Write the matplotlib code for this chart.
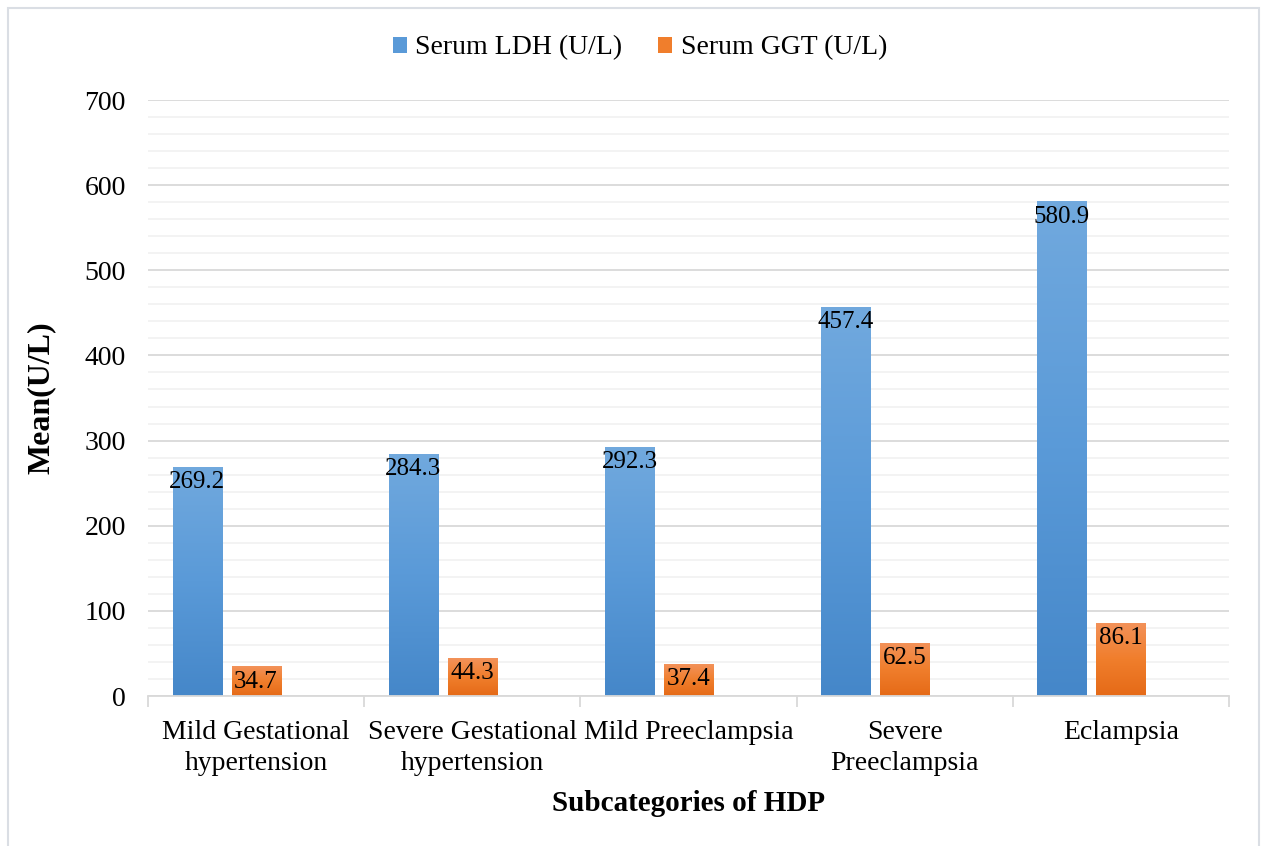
import numpy as np
import matplotlib.pyplot as plt
from matplotlib.colors import LinearSegmentedColormap
from matplotlib.patches import Rectangle

plt.rcParams['font.family'] = ['Liberation Serif', 'DejaVu Serif']

categories = ['Mild Gestational\nhypertension', 'Severe Gestational\nhypertension',
              'Mild Preeclampsia', 'Severe\nPreeclampsia', 'Eclampsia']
ldh = [269.2, 284.3, 292.3, 457.4, 580.9]
ggt = [34.7, 44.3, 37.4, 62.5, 86.1]

fig = plt.figure(figsize=(12.64, 8.46), dpi=100)
ax = fig.add_axes([148 / 1264, 1 - 696 / 846, (1229 - 148) / 1264, 596 / 846])

# frame around the whole chart
fig.patches.append(Rectangle((8 / 1264, -0.05), (1259 - 8) / 1264, 1.05 - 8 / 846,
                             transform=fig.transFigure, fill=False,
                             edgecolor='#dadee4', linewidth=1.5))

x = np.arange(len(categories))
w = 0.227
step = 0.273

blue_map = LinearSegmentedColormap.from_list('b', ['#4587c9', '#5a9ad8', '#71a9de'])
orange_map = LinearSegmentedColormap.from_list('o', ['#e56a17', '#f07e2c', '#f3925a'])

def gradient_bars(xs, vals, cmap, label):
    bars = ax.bar(xs, vals, w, color=cmap(0.5), label=label, zorder=2)
    grad = np.linspace(0, 1, 256).reshape(-1, 1)
    for b in bars:
        x0, y0 = b.get_x(), b.get_y()
        im = ax.imshow(grad, cmap=cmap, aspect='auto', origin='lower',
                       extent=(x0, x0 + b.get_width(), y0, y0 + b.get_height()),
                       zorder=2.5)
        im.set_clip_path(b)
    return bars

b1 = gradient_bars(x - step, ldh, blue_map, 'Serum LDH (U/L)')
b2 = gradient_bars(x, ggt, orange_map, 'Serum GGT (U/L)')

for bars, vals in [(b1, ldh), (b2, ggt)]:
    for b, v in zip(bars, vals):
        ax.annotate(f'{v:.1f}', (b.get_x() + b.get_width() / 2, v),
                    xytext=(0, -3), textcoords='offset points',
                    ha='center', va='top', fontsize=18, zorder=4)

ax.set_xlim(-0.5, len(categories) - 0.5)
ax.set_ylim(0, 700)
ax.set_yticks(np.arange(0, 701, 100))
ax.set_yticks(np.arange(0, 701, 20), minor=True)
ax.grid(axis='y', which='major', color='#d9d9d9', linewidth=1.3, zorder=0)
ax.grid(axis='y', which='minor', color='#f2f2f2', linewidth=1.3, zorder=0)
ax.set_axisbelow(True)

ax.set_xticks(x)
ax.set_xticklabels(categories, fontsize=20, linespacing=1.35)
ax.set_xticks(np.arange(-0.5, len(categories), 1), minor=True)
ax.tick_params(axis='x', which='major', length=0, pad=17)
ax.tick_params(axis='x', which='minor', length=8, color='#d9d9d9', width=1.3)
ax.tick_params(axis='y', which='both', length=0, labelsize=20, pad=16)

for s in ['top', 'right', 'left']:
    ax.spines[s].set_visible(False)
ax.spines['bottom'].set_color('#d9d9d9')
ax.spines['bottom'].set_linewidth(1.3)
ax.spines['bottom'].set_zorder(3)

ax.set_ylabel('Mean(U/L)', fontsize=23, fontweight='bold', labelpad=21)
ax.set_xlabel('Subcategories of HDP', fontsize=21, fontweight='bold', labelpad=10)

fig.legend(handles=[b1, b2], loc='center', bbox_to_anchor=(640 / 1264, 1 - 48 / 846),
           ncol=2, frameon=False, fontsize=20, handlelength=0.5, handleheight=0.5,
           handletextpad=0.3, columnspacing=1.3)

fig.savefig('out.png', dpi=100)
